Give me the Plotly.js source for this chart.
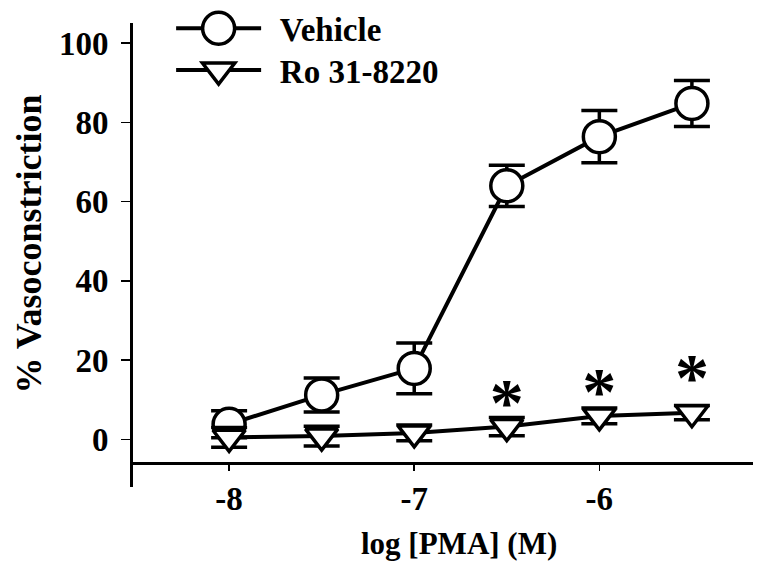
<!DOCTYPE html>
<html>
<head>
<meta charset="utf-8">
<script src="https://cdn.plot.ly/plotly-3.0.1.min.js"></script>
<style>
  html, body { margin: 0; padding: 0; background: #fff; }
  #chart { width: 777px; height: 575px; }
</style>
</head>
<body>
<div id="chart"></div>
<script>
// log [PMA] (M)
const logPMA = [-8, -7.5, -7, -6.5, -6, -5.5];

// Vehicle: mean % vasoconstriction and SEM
const vehicleMean = [3.8, 11.2, 17.9, 64.0, 76.4, 84.8];
const vehicleErr  = [3.4, 4.3, 6.4, 5.2, 6.6, 5.8];

// Ro 31-8220: mean % vasoconstriction and SEM
const roMean = [0.5, 0.8, 1.6, 3.2, 5.9, 6.7];
const roErr  = [2.5, 2.5, 2.0, 2.3, 2.0, 1.8];

// significance markers (*)
const sigX = [-6.5, -6, -5.5];
const sigY = [8.0, 10.7, 14.3];
const sigText = ['*', '*', '*'];

const xTickVals = [-8, -7, -6];
const xTickText = ['-8', '-7', '-6'];
const yTickVals = [0, 20, 40, 60, 80, 100];

const FONT = '"Liberation Serif", "Times New Roman", serif';
const vehicleSize = 32, roSize = 28;

const traces = [
  {
    x: logPMA, y: vehicleMean, name: '\u00a0\u2006Vehicle',
    type: 'scatter', mode: 'lines+markers',
    line: { color: '#000', width: 4 },
    marker: { symbol: 'circle', size: vehicleSize, color: '#fff', line: { color: '#000', width: 3.5 } },
    error_y: { type: 'data', array: vehicleErr, visible: true, color: '#000', thickness: 3.5, width: 18 }
  },
  {
    x: logPMA, y: roMean, name: '\u00a0\u2006Ro 31-8220',
    type: 'scatter', mode: 'lines+markers',
    line: { color: '#000', width: 4 },
    marker: { symbol: 'triangle-down', size: roSize, color: '#fff', line: { color: '#000', width: 3.5 } },
    error_y: { type: 'data', array: roErr, visible: true, color: '#000', thickness: 3.5, width: 18 }
  },
  {
    x: sigX, y: sigY, text: sigText, mode: 'text', type: 'scatter',
    showlegend: false, hoverinfo: 'skip',
    textposition: 'middle center',
    textfont: { family: FONT, size: 68, color: '#000', weight: 700 }
  }
];

const layout = {
  width: 777, height: 575,
  paper_bgcolor: '#fff', plot_bgcolor: '#fff',
  margin: { l: 131, r: 24, t: 23, b: 88, pad: 0, autoexpand: false },
  font: { family: FONT, size: 33, color: '#000', weight: 700 },
  showlegend: true,
  legend: {
    x: 0.0645, y: 1.049, xanchor: 'left', yanchor: 'top',
    bgcolor: 'rgba(0,0,0,0)', borderwidth: 0,
    font: { family: FONT, size: 33, color: '#000', weight: 700 },
    itemwidth: 85, tracegroupgap: 0
  },
  xaxis: {
    range: [-8.53, -5.17],
    anchor: 'free', position: 0.0517,
    showline: true, linecolor: '#000', linewidth: 2.5,
    showgrid: false, zeroline: false,
    tickmode: 'array', tickvals: xTickVals, ticktext: xTickText,
    ticks: 'outside', ticklen: 6, tickwidth: 1.5, tickcolor: '#000',
    ticklabelstandoff: 0,
    tickfont: { family: FONT, size: 33, color: '#000', weight: 700 }
  },
  yaxis: {
    range: [-12.05, 105.1],
    anchor: 'free', position: 0,
    showline: true, linecolor: '#000', linewidth: 2.5,
    showgrid: false, zeroline: false,
    tickmode: 'array', tickvals: yTickVals,
    ticks: 'outside', ticklen: 9, tickwidth: 1.5, tickcolor: '#000',
    ticklabelstandoff: 6,
    tickfont: { family: FONT, size: 33, color: '#000', weight: 700 }
  },
  annotations: [
    {
      text: 'log [PMA] (M)', xref: 'paper', yref: 'paper',
      x: 0.527, y: -0.1207, xanchor: 'center', yanchor: 'middle', showarrow: false,
      font: { family: FONT, size: 31, color: '#000', weight: 700 }
    },
    {
      text: '% Vasoconstriction', xref: 'paper', yref: 'paper', textangle: -90,
      x: -0.1624, y: 0.5248, xanchor: 'center', yanchor: 'middle', showarrow: false,
      font: { family: FONT, size: 36, color: '#000', weight: 700 }
    }
  ]
};

Plotly.newPlot('chart', traces, layout, { displayModeBar: false, staticPlot: true }).then(function (gd) {
  // enlarge legend symbols to match the plotted marker size (legend caps at 16px)
  const sizes = [vehicleSize, roSize];
  const groups = gd.querySelectorAll('.legend .traces');
  groups.forEach(function (g, i) {
    const s = (sizes[i] || 16) / 16;
    g.querySelectorAll('.legendpoints path.scatterpts').forEach(function (p) {
      const t = p.getAttribute('transform') || '';
      p.setAttribute('transform', t + ' scale(' + s + ')');
      p.style.strokeWidth = (3.5 / s) + 'px';
    });
    // tighten row spacing to match the reference legend
    if (i > 0) {
      const tr = g.getAttribute('transform') || '';
      const m = tr.match(/translate\(\s*([-\d.]+)[ ,]+([-\d.]+)\s*\)/);
      if (m) g.setAttribute('transform', 'translate(' + m[1] + ',' + (parseFloat(m[2]) - 4 * i) + ')');
    }
  });
});
</script>
</body>
</html>
